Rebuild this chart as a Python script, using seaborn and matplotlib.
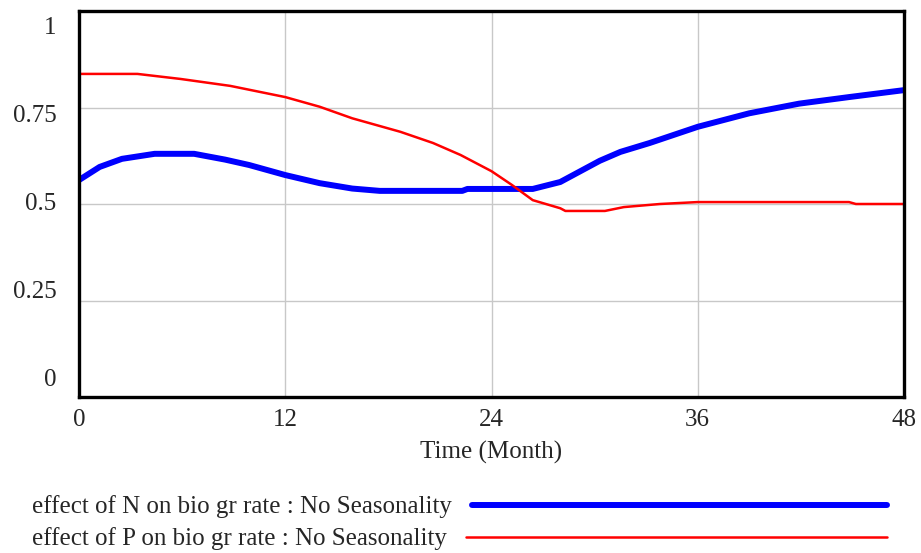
import numpy as np
import pandas as pd
import seaborn as sns
import matplotlib.pyplot as plt
from matplotlib.lines import Line2D

# values
months_n = [0, 1.2, 2.5, 4.4, 6.7, 8.5, 9.9, 12, 14, 15.9, 17.5, 22.3, 22.6,
            26.4, 28, 30.3, 31.5, 33.2, 36, 39, 41.9, 44.8, 48]
effect_n = [0.562, 0.596, 0.617, 0.630, 0.630, 0.615, 0.601, 0.575, 0.554,
            0.540, 0.534, 0.534, 0.539, 0.539, 0.557, 0.612, 0.635, 0.658,
            0.700, 0.735, 0.760, 0.777, 0.795]

months_p = [0, 3.4, 5.9, 8.8, 12, 14, 15.9, 18.7, 20.6, 22.2, 24, 25.2, 26.4,
            28, 28.3, 30.6, 31.7, 33.8, 36, 44.8, 45.2, 48]
effect_p = [0.837, 0.837, 0.824, 0.806, 0.777, 0.752, 0.722, 0.687, 0.658,
            0.627, 0.585, 0.549, 0.510, 0.489, 0.482, 0.482, 0.492, 0.500,
            0.505, 0.505, 0.500, 0.500]

x_ticks = [0, 12, 24, 36, 48]
y_ticks = [0, 0.25, 0.5, 0.75, 1]
y_tick_labels = ["0", "0.25", "0.5", "0.75", "1"]
label_n = "effect of N on bio gr rate : No Seasonality"
label_p = "effect of P on bio gr rate : No Seasonality"

sns.set_style("white")
plt.rcParams["font.family"] = ["Liberation Serif", "DejaVu Serif"]
FS = 18

BLUE, RED = "#0000ff", "#ff0000"
LW_N, LW_P = 4.3, 1.8

df_n = pd.DataFrame({"month": months_n, "value": effect_n})
df_p = pd.DataFrame({"month": months_p, "value": effect_p})

W, H = 921, 553
fig = plt.figure(figsize=(W / 100, H / 100), dpi=100)
ax = fig.add_axes([79 / W, 1 - 397 / H, (904 - 79) / W, (397 - 11) / H])

sns.lineplot(data=df_n, x="month", y="value", ax=ax, color=BLUE,
             linewidth=LW_N, estimator=None, sort=False, legend=False)
sns.lineplot(data=df_p, x="month", y="value", ax=ax, color=RED,
             linewidth=LW_P, estimator=None, sort=False, legend=False)

ax.set_xlim(0, 48)
ax.set_ylim(0, 1)
ax.set_xticks(x_ticks)
ax.set_yticks(y_ticks)
ax.set_yticklabels([])
ax.grid(True, color="#c8c8c8", linewidth=1.0)
ax.tick_params(axis="both", length=0)
ax.tick_params(axis="x", labelsize=FS, pad=9)
for s in ax.spines.values():
    s.set_color("black")
    s.set_linewidth(2.4)

# Vensim spreads the y labels a bit inside the axis range
for v, lab in zip(y_ticks, y_tick_labels):
    ax.text(-0.027, 0.043 + v * 0.912, lab, transform=ax.transAxes,
            ha="right", va="center", fontsize=FS)

ax.set_xlabel("Time (Month)", fontsize=FS, labelpad=7)
ax.set_ylabel("")

# legend: text on the left, long sample line on the right
for lab, col, lw, ypx, x0 in [(label_n, BLUE, LW_N, 507, 472),
                              (label_p, RED, LW_P, 539, 466)]:
    fig.text(32 / W, 1 - ypx / H, lab, ha="left", va="center", fontsize=FS)
    fig.add_artist(Line2D([x0 / W, 887 / W], [1 - (ypx - 2) / H] * 2,
                          color=col, linewidth=lw, transform=fig.transFigure))

fig.savefig("out.png", dpi=100)
